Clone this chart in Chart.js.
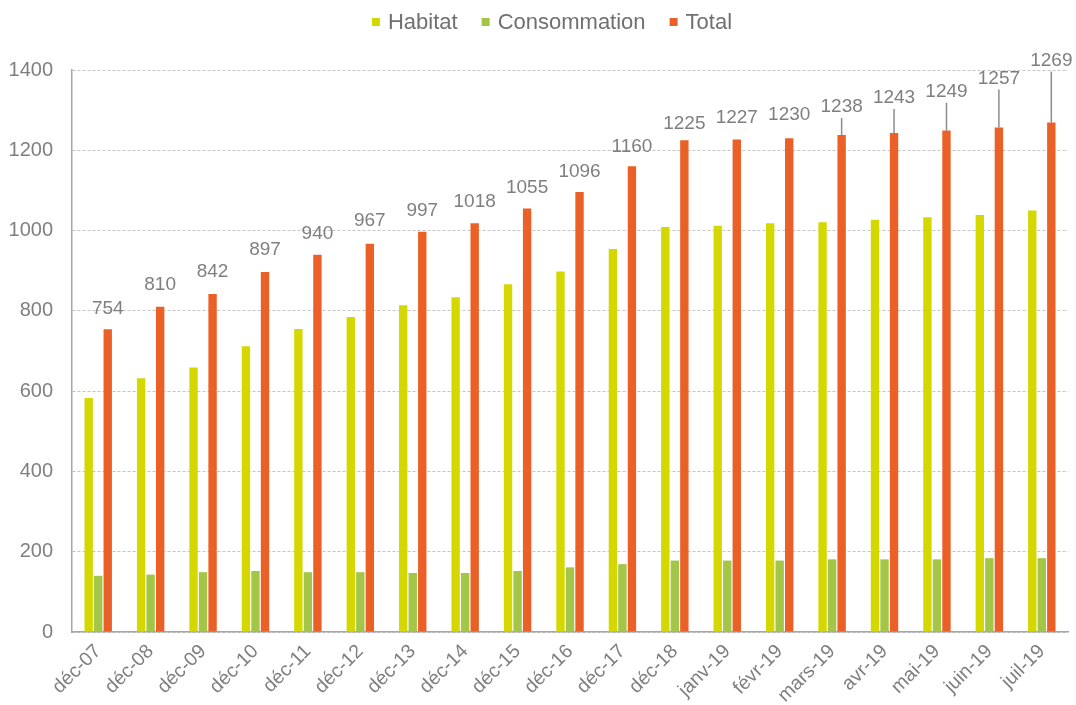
<!DOCTYPE html>
<html>
<head>
<meta charset="utf-8">
<script src="https://cdn.jsdelivr.net/npm/chart.js@4.4.1/dist/chart.umd.min.js"></script>
<style>
  html, body { margin: 0; padding: 0; background: #fff; }
  #wrap { width: 1076px; height: 705px; }
</style>
</head>
<body>
<div id="wrap"><canvas id="chart" width="1076" height="705"></canvas></div>
<script>
//categories (x axis)
var months = ["déc-07", "déc-08", "déc-09", "déc-10", "déc-11", "déc-12", "déc-13", "déc-14", "déc-15",
  "déc-16", "déc-17", "déc-18", "janv-19", "févr-19", "mars-19", "avr-19", "mai-19", "juin-19", "juil-19"];
//series values
var habitat = [583, 632, 659, 712, 755, 785, 814, 834, 866, 898, 954, 1009, 1012, 1018, 1021, 1027, 1033, 1039, 1050];
var consommation = [140, 143, 149, 152, 149, 149, 147, 147, 152, 161, 169, 178, 178, 178, 181, 181, 181, 184, 184];
var total = [754, 810, 842, 897, 940, 967, 997, 1018, 1055, 1096, 1160, 1225, 1227, 1230, 1238, 1243, 1249, 1257, 1269];
//y axis ticks
var yTicks = [0, 200, 400, 600, 800, 1000, 1200, 1400];

//how far each total label sits above its bar (px), last ones use a leader line
var labelLift = [21, 22, 22, 22, 21, 23, 21, 22, 21, 20, 20, 16, 22, 23, 28, 35, 39, 49, 62];

var FONT = '"Liberation Sans", Arial, sans-serif';
Chart.defaults.font.family = FONT;
Chart.defaults.color = "#7f7f7f";

//draws the total values above the orange bars
var totalLabels = {
  id: "totalLabels",
  afterDatasetsDraw: function (chart) {
    var ctx = chart.ctx;
    var meta = chart.getDatasetMeta(2);
    ctx.save();
    ctx.font = "19px " + FONT;
    ctx.fillStyle = "#7f7f7f";
    ctx.textAlign = "center";
    ctx.textBaseline = "middle";
    meta.data.forEach(function (bar, i) {
      var ty = bar.y - labelLift[i];
      ctx.fillText(String(total[i]), bar.x, ty);
      if (labelLift[i] > 25) {
        ctx.strokeStyle = "#8c8c8c";
        ctx.lineWidth = 1.5;
        ctx.beginPath();
        ctx.moveTo(bar.x, ty + 11);
        ctx.lineTo(bar.x, bar.y);
        ctx.stroke();
      }
    });
    ctx.restore();
  }
};

//legend on top, drawn by hand so spacing matches
var topLegend = {
  id: "topLegend",
  afterDraw: function (chart) {
    var ctx = chart.ctx;
    var sets = chart.data.datasets;
    var box = 8, gapText = 8, gapItem = 24, y = 22;
    ctx.save();
    ctx.font = "22px " + FONT;
    ctx.textBaseline = "middle";
    var widths = sets.map(function (ds) { return ctx.measureText(ds.label).width; });
    var full = 0;
    widths.forEach(function (w) { full += box + gapText + w; });
    full += gapItem * (sets.length - 1);
    var x = chart.width / 2 + 14 - full / 2;
    sets.forEach(function (ds, i) {
      ctx.fillStyle = ds.backgroundColor;
      ctx.fillRect(x, y - box / 2, box, box);
      x += box + gapText;
      ctx.fillStyle = "#707070";
      ctx.fillText(ds.label, x, y + 1);
      x += widths[i] + gapItem;
    });
    ctx.restore();
  }
};

var ctx = document.getElementById("chart").getContext("2d");
var config = {
  type: "bar",
  data: {
    labels: months,
    datasets: [
      { label: "Habitat", data: habitat, backgroundColor: "#d4d800" },
      { label: "Consommation", data: consommation, backgroundColor: "#a3c548" },
      { label: "Total", data: total, backgroundColor: "#ea6026" }
    ]
  },
  options: {
    responsive: false,
    animation: false,
    datasets: {
      bar: { categoryPercentage: 0.545, barPercentage: 0.88 }
    },
    layout: { padding: { top: 70, right: 8, bottom: 0, left: 0 } },
    plugins: {
      tooltip: { enabled: false },
      legend: { display: false }
    },
    scales: {
      x: {
        grid: { display: false },
        border: { display: true, color: "#a6a6a6", width: 1.5 },
        ticks: {
          minRotation: 45,
          maxRotation: 45,
          padding: 0,
          color: "#7f7f7f",
          font: { size: 19.5 }
        },
        afterFit: function (scale) { scale.height = 73; }
      },
      y: {
        min: 0,
        max: 1400,
        afterBuildTicks: function (scale) {
          scale.ticks = yTicks.map(function (v) { return { value: v }; });
        },
        grid: { color: "#c4c4c4", lineWidth: 1, drawTicks: false },
        border: { display: true, color: "#a6a6a6", width: 1.5, dash: [3, 2] },
        ticks: {
          padding: 19,
          color: "#7f7f7f",
          font: { size: 20 },
          callback: function (v) { return String(v); }
        },
        afterFit: function (scale) { scale.width = 72; }
      }
    }
  },
  plugins: [totalLabels, topLegend]
};
var myChart = new Chart(ctx, config);
</script>
</body>
</html>
